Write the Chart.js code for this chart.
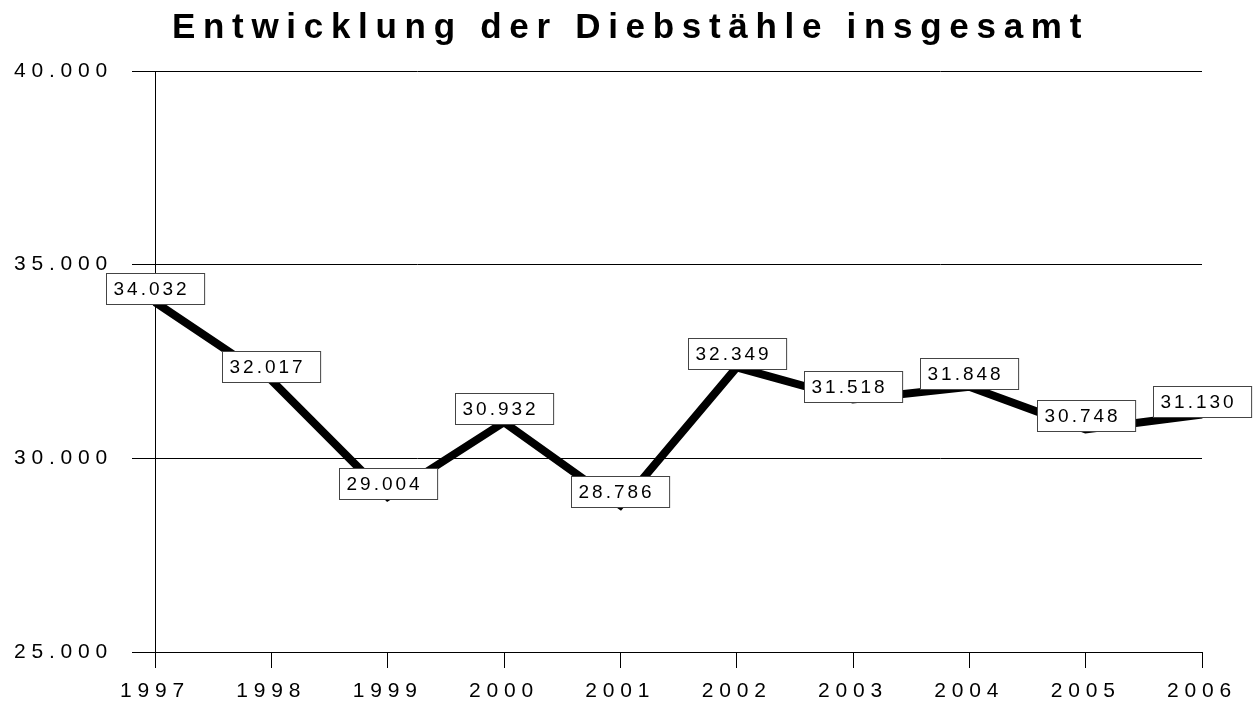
<!DOCTYPE html>
<html>
<head>
<meta charset="utf-8">
<script src="https://cdn.jsdelivr.net/npm/chart.js@4.4.0/dist/chart.umd.min.js"></script>
<style>
    html, body { margin: 0; padding: 0; background: #fff; }
    #wrap { width: 1253px; height: 704px; }
</style>
</head>
<body>
<div id="wrap"><canvas id="theftChart"></canvas></div>
<script>
const years = ['1997', '1998', '1999', '2000', '2001', '2002', '2003', '2004', '2005', '2006'];
const thefts = [34032, 32017, 29004, 30932, 28786, 32349, 31518, 31848, 30748, 31130];
const yMin = 25000;
const yMax = 40000;
const yStep = 5000;
const chartTitle = 'Entwicklung der Diebstähle insgesamt';

const FONT = "'Liberation Sans', Arial, sans-serif";

// old office chart look: wide letter spacing on the axis text
const spacingPlugin = {
    id: 'spacing',
    beforeLayout(chart) { chart.ctx.letterSpacing = '5.8px'; },
    beforeDraw(chart) { chart.ctx.letterSpacing = '5.8px'; }
};

// title drawn by hand, it needs its own (wider) spacing and is centred on the page
const spacedTitle = {
    id: 'spacedTitle',
    afterDraw(chart) {
        const ctx = chart.ctx;
        ctx.save();
        ctx.letterSpacing = '7.7px';
        ctx.font = 'bold 35px ' + FONT;
        ctx.fillStyle = '#000';
        ctx.textAlign = 'center';
        ctx.textBaseline = 'alphabetic';
        ctx.fillText(chartTitle, chart.width / 2 + 4, 38);
        ctx.restore();
    }
};

// boxed value labels sitting on top of each point
const boxLabels = {
    id: 'boxLabels',
    afterDatasetsDraw(chart) {
        const ctx = chart.ctx;
        const meta = chart.getDatasetMeta(0);
        ctx.save();
        ctx.letterSpacing = '3px';
        ctx.font = '19px ' + FONT;
        ctx.textBaseline = 'middle';
        ctx.textAlign = 'left';
        meta.data.forEach((pt, i) => {
            const text = thefts[i].toLocaleString('de-DE');
            const w = ctx.measureText(text).width + 22;
            const h = 31;
            const x = Math.round(pt.x - w / 2) + 0.5;
            const y = Math.round(pt.y + 2 - h) + 0.5;
            ctx.fillStyle = '#fff';
            ctx.fillRect(x, y, w, h);
            ctx.strokeStyle = '#444';
            ctx.lineWidth = 1;
            ctx.strokeRect(x, y, w, h);
            ctx.fillStyle = '#000';
            ctx.fillText(text, x + 7, y + h / 2 + 1);
        });
        ctx.restore();
    }
};

new Chart(document.getElementById('theftChart'), {
    type: 'line',
    data: {
        labels: years,
        datasets: [{
            data: thefts,
            borderColor: '#000',
            borderWidth: 8,
            tension: 0,
            pointRadius: 0,
            pointHoverRadius: 0
        }]
    },
    options: {
        responsive: true,
        maintainAspectRatio: false,
        animation: false,
        locale: 'de-DE',
        layout: { padding: { top: 71, right: 51, left: 0, bottom: 0 } },
        plugins: {
            legend: { display: false },
            tooltip: { enabled: false },
            title: { display: false }
        },
        scales: {
            x: {
                offset: false,
                grid: { display: true, drawOnChartArea: false, color: '#000', tickLength: 16, tickColor: '#000' },
                border: { display: true, color: '#000', width: 1 },
                ticks: {
                    color: '#000',
                    font: { family: FONT, size: 21 },
                    padding: 11,
                    autoSkip: false,
                    maxRotation: 0
                },
                afterFit(scale) { scale.height = 52; }
            },
            y: {
                min: yMin,
                max: yMax,
                grid: { color: '#000', lineWidth: 1, tickLength: 23 },
                border: { display: true, color: '#000', width: 1 },
                ticks: {
                    stepSize: yStep,
                    color: '#000',
                    font: { family: FONT, size: 21 },
                    padding: 19,
                    callback: v => v.toLocaleString('de-DE')
                },
                afterFit(scale) { scale.width = 155; }
            }
        }
    },
    plugins: [spacingPlugin, boxLabels, spacedTitle]
});
</script>
</body>
</html>
